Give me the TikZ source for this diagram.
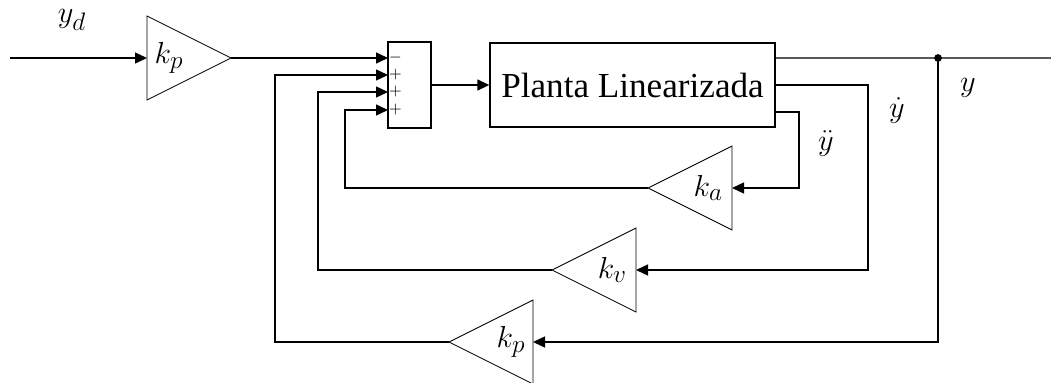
\documentclass[tikz,border=0pt]{standalone}
\usepackage{fontspec}
\setmainfont{Liberation Serif}
\usetikzlibrary{shapes.geometric, arrows.meta, positioning}
\tikzset{
    % gain blocks
    gainbox/.style={
        isosceles triangle,
        isosceles triangle stretches,
        draw,
        line width=0.5pt,
        minimum width=1.68cm,
        minimum height=1.68cm,
        inner sep=0pt,
        outer sep=0pt,
        font=\fontsize{19}{22}\selectfont
    },
    sumbox/.style={
        rectangle,
        draw,
        line width=0.8pt,
        minimum width=0.86cm,
        minimum height=1.72cm,
        inner sep=0pt
    },
    plantbox/.style={
        rectangle,
        draw,
        line width=0.8pt,
        minimum width=5.7cm,
        minimum height=1.68cm,
        font=\fontsize{20}{24}\selectfont
    },
    signlbl/.style={
        inner sep=0.5pt,
        font=\fontsize{9}{10}\selectfont
    },
    siglbl/.style={
        inner sep=0pt,
        font=\fontsize{19}{22}\selectfont
    },
    % connectors
    sigline/.style={
        line width=0.8pt
    },
    sigarrow/.style={
        -{Triangle[length=0.24cm,width=0.22cm]},
        line width=0.8pt
    }
}
\begin{document}
\begin{tikzpicture}[x=0.02cm,y=-0.02cm]
    \useasboundingbox (0,0) rectangle (1051,382);

    % Forward path
    \coordinate (ref) at (10,58);
    \node[gainbox,anchor=lower side] (kpf) at (147,58) {$k_p$};
    \node[sumbox] (sum) at (409.5,85) {};
    \node[plantbox] (plant) at (632.5,85) {Planta Linearizada};

    % Summer inputs
    \coordinate (in1) at (388,58);
    \coordinate (in2) at (388,75);
    \coordinate (in3) at (388,92);
    \coordinate (in4) at (388,110);
    \node[signlbl,anchor=west] at (in1) {$-$};
    \node[signlbl,anchor=west] at (in2) {$+$};
    \node[signlbl,anchor=west] at (in3) {$+$};
    \node[signlbl,anchor=west] at (in4) {$+$};

    % Feedback gains
    \node[gainbox,shape border rotate=180,anchor=lower side] (ka) at (732,188) {$k_a$};
    \node[gainbox,shape border rotate=180,anchor=lower side] (kv) at (636,270) {$k_v$};
    \node[gainbox,shape border rotate=180,anchor=lower side] (kpb) at (533,342) {$k_p$};

    % Output
    \coordinate (branch) at (938,58);
    \coordinate (out) at (1051,58);

    % Arrows
    \draw[sigarrow] (ref) -- (kpf.lower side);
    \draw[sigarrow] (kpf.apex) -- (in1);
    \draw[sigarrow] (sum.east) -- (plant.west);
    \draw[sigline] ([yshift=0.54cm]plant.east) -- (out);
    \fill (branch) circle (2.2pt);

    \draw[sigarrow] ([yshift=-0.54cm]plant.east) -| ([xshift=1.34cm]ka.lower side) -- (ka.lower side);
    \draw[sigarrow] (ka.apex) -| ([xshift=-0.86cm]in4) -- (in4);
    \draw[sigarrow] (plant.east) -| ([xshift=4.64cm]kv.lower side) -- (kv.lower side);
    \draw[sigarrow] (kv.apex) -| ([xshift=-1.4cm]in3) -- (in3);
    \draw[sigarrow] (branch) |- (kpb.lower side);
    \draw[sigarrow] (kpb.apex) -| ([xshift=-2.26cm]in2) -- (in2);

    % Signal labels
    \node[siglbl] (lyd) at (72,20) {$y_d$};
    \node[siglbl] (lydd) at (826,143) {$\ddot{y}$};
    \node[siglbl] (lyd1) at (897,110) {$\dot{y}$};
    \node[siglbl] (ly) at (968,88) {$y$};
\end{tikzpicture}
\end{document}
